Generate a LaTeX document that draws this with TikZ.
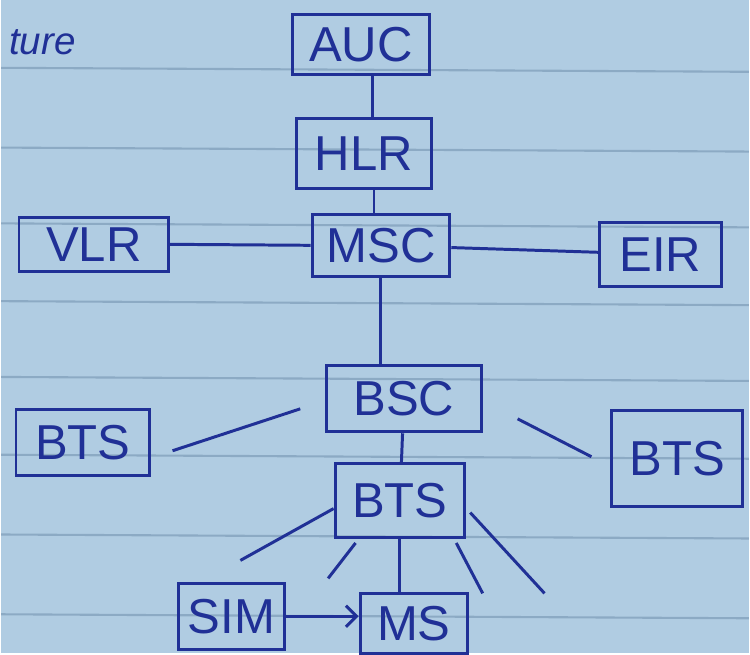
\documentclass[tikz,border=0pt]{standalone}
\usepackage{fontspec}
\setmainfont{Liberation Sans}
\usetikzlibrary{arrows.meta}
\definecolor{paperBlue}{RGB}{176,204,226}
\definecolor{ruleBlue}{RGB}{140,170,196}
\definecolor{inkBlue}{RGB}{32,48,150}

\begin{document}
\begin{tikzpicture}[x=0.02cm,y=-0.02cm,
    unit/.style={draw=inkBlue,line width=1.7pt,text=inkBlue,
      font=\fontsize{28}{30}\selectfont,inner sep=0pt},
    wire/.style={inkBlue,line width=1.7pt}]
    % paper
    \fill[paperBlue] (0,0) rectangle (750,655);
    \foreach \y in {68,148,224,302,378,456,536,616}{
      \draw[ruleBlue,line width=1.2pt] (0,\y) -- (750,\y+4);
    }
    \node[anchor=west,text=inkBlue,font=\fontsize{22}{24}\selectfont\itshape] (title) at (2,42) {ture};
    % core network
    \node[unit,minimum width=138*0.02cm,minimum height=60*0.02cm] (auc) at (361,45) {AUC};
    \node[unit,minimum width=136*0.02cm,minimum height=70*0.02cm] (hlr) at (364,154) {HLR};
    \node[unit,minimum width=150*0.02cm,minimum height=54*0.02cm] (vlr) at (93,245) {VLR};
    \node[unit,minimum width=138*0.02cm,minimum height=62*0.02cm] (msc) at (381,246) {MSC};
    \node[unit,minimum width=122*0.02cm,minimum height=64*0.02cm] (eir) at (661,255) {EIR};
    % radio part
    \node[unit,minimum width=156*0.02cm,minimum height=66*0.02cm] (bsc) at (404,400) {BSC};
    \node[unit,minimum width=134*0.02cm,minimum height=66*0.02cm] (btsl) at (82,444) {BTS};
    \node[unit,minimum width=132*0.02cm,minimum height=96*0.02cm] (btsr) at (678,460) {BTS};
    \node[unit,minimum width=130*0.02cm,minimum height=74*0.02cm] (btsc) at (400,502) {BTS};
    \node[unit,minimum width=106*0.02cm,minimum height=66*0.02cm] (sim) at (231,618) {SIM};
    \node[unit,minimum width=108*0.02cm,minimum height=60*0.02cm] (ms) at (414,625) {MS};
    % links
    \draw[wire] (auc.south) ++(11,0) -- ++(0,43);
    \draw[wire] (hlr.south) ++(10,0) -- ++(0,25);
    \draw[wire] (vlr.east) -- (msc.west);
    \draw[wire] (msc) -- (eir);
    \draw[wire] (msc.south) -- (msc.south |- bsc.north);
    \draw[wire] (bsc) -- (btsc);
    \draw[wire] (btsc.south) -- (btsc.south |- ms.north);
    \draw[wire,-{Straight Barb[length=6pt,width=12pt]}] (sim) -- (sim -| ms.west);
    % loose links to the outer BTS
    \coordinate (lb1) at (172,452);
    \coordinate (lb2) at (300,410);
    \coordinate (rb1) at (518,420);
    \coordinate (rb2) at (592,458);
    \draw[wire] (lb1) -- (lb2);
    \draw[wire] (rb1) -- (rb2);
    % radio rays
    \coordinate (r1) at (240,562);
    \coordinate (r2) at (328,580);
    \coordinate (r3) at (483,595);
    \coordinate (r4) at (545,595);
    \draw[wire] (btsc.west) ++(0,8) -- (r1);
    \draw[wire] (btsc.south west) ++(22,4) -- (r2);
    \draw[wire] (btsc.south east) ++(-10,4) -- (r3);
    \draw[wire] (btsc.east) ++(4,12) -- (r4);
\end{tikzpicture}
\end{document}
